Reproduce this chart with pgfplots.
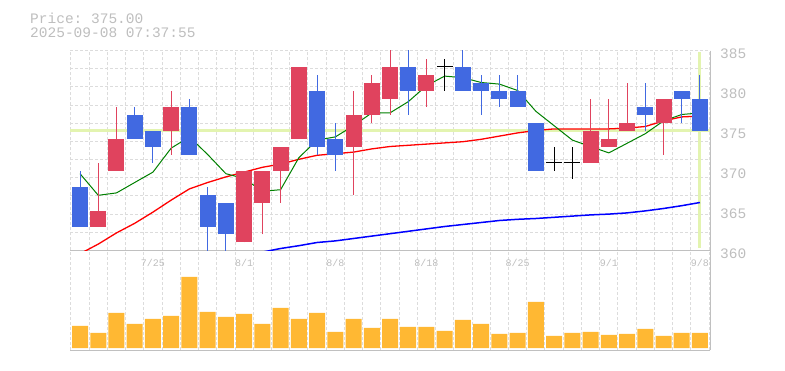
\documentclass[border=0pt]{standalone}
\usepackage{pgfplots}
\usepackage{pgfplotstable}
\pgfplotsset{compat=1.18}
\usepackage{fontspec}
\setmonofont{Liberation Mono}
\definecolor{cRed}{HTML}{E0435E}
\definecolor{cBlue}{HTML}{4169E1}
\definecolor{cVol}{HTML}{FFB833}
\definecolor{cNow}{HTML}{E3F4B0}
\definecolor{txtgray}{HTML}{BEBEBE}
\definecolor{axgray}{HTML}{C0C0C0}
\definecolor{gridgray}{HTML}{DCDCDC}
\definecolor{maGreen}{HTML}{008000}

% up candles (red): index open close high low
\pgfplotstableread{
i o c h l
1 363 365 371 363
2 370 374 378 370
5 375 378 380 372
9 361 370 370 361
10 366 370 370 362
11 370 373 373 366
12 374 383 383 374
15 373 377 380 367
16 377 381 382 376
17 379 383 386 377
19 380 382 384 378
28 371 375 379 371
29 373 374 379 373
30 375 376 381 375
32 376 379 379 372
}\uptab
% down candles (blue): index open close high low
\pgfplotstableread{
i o c h l
0 368 363 370 363
3 377 374 378 374
4 375 373 375 371
6 378 372 379 372
7 367 363 368 359
8 366 362 366 359
13 380 373 382 372
14 374 372 376 370
18 383 380 386 377
21 383 380 386 380
22 381 380 382 377
23 380 379 382 378
24 380 378 382 378
25 376 370 376 370
31 378 377 381 375
33 380 379 380 376
34 379 375 382 375
}\downtab
% doji: index price high low
\pgfplotstableread{
i p h l
20 383 384 380
26 371 373 370
27 371 373 369
}\dojitab
% volume
\pgfplotstableread{
i v
0 22
1 15
2 35
3 24
4 29
5 32
6 71
7 36
8 31
9 34
10 24
11 40
12 29
13 35
14 16
15 29
16 20
17 29
18 21
19 21
20 17
21 28
22 24
23 14
24 15
25 46
26 12
27 15
28 16
29 13
30 14
31 19
32 12
33 15
34 15
}\voltab

\begin{document}
\begin{tikzpicture}[x=1pt,y=1pt]
\path[use as bounding box] (0,0) rectangle (785,370);
\node[anchor=base west, font=\fontsize{14.5}{15}\selectfont\ttfamily, text=txtgray, inner sep=0pt] at (30,346.7) {Price: 375.00};
\node[anchor=base west, font=\fontsize{14.5}{15}\selectfont\ttfamily, text=txtgray, inner sep=0pt] at (30,332.7) {2025-09-08 07:37:55};

% volume panel
\begin{axis}[
  at={(70pt,20pt)}, anchor=south west, scale only axis,
  width=640pt, height=99.5pt,
  xmin=-0.55, xmax=34.55, ymin=-2, ymax=97.5,
  axis x line=bottom, axis y line=right,
  axis line style={draw=axgray, line width=1pt, -},
  xtick={-0.5,0.5,...,34.5}, xticklabels={},
  ytick=\empty,
  xmajorgrids=true,
  major grid style={draw=gridgray, dash pattern=on 3pt off 2pt, line width=1pt},
  major tick length=0pt,
]
\addplot[ybar, bar width=16pt, fill=cVol, draw=none] table[x=i,y=v]{\voltab};
\end{axis}

% price panel
\begin{axis}[
  at={(70pt,119.5pt)}, anchor=south west, scale only axis,
  width=640pt, height=200pt,
  xmin=-0.55, xmax=34.55, ymin=360, ymax=385,
  axis x line=bottom, axis y line=right,
  axis line style={draw=axgray, line width=1pt, -},
  xtick={-0.5,0.5,...,34.5}, xticklabels={},
  ytick={362.2727,364.5455,366.8182,369.0909,371.3636,373.6364,375.9091,378.1818,380.4545,382.7273,385},
  yticklabels={},
  xmajorgrids=true, ymajorgrids=true,
  major grid style={draw=gridgray, dash pattern=on 3pt off 2pt, line width=1pt},
  major tick length=0pt,
  extra x ticks={4,9,14,19,24,29,34},
  extra x tick labels={7/25,8/1,8/8,8/18,8/25,9/1,9/8},
  extra x tick style={grid=none, major tick length=0pt,
    xticklabel style={font=\fontsize{10}{10}\selectfont\ttfamily, text=txtgray, anchor=base, yshift=-16pt}},
  extra y ticks={360,365,370,375,380,385},
  extra y tick style={grid=none, major tick length=0pt,
    yticklabel style={font=\fontsize{14.5}{15}\selectfont\ttfamily, text=txtgray, anchor=west, inner sep=0pt, xshift=10pt, yshift=-2.8pt}},
  /pgf/number format/assume math mode=true,
]
% current price markers
\addplot[cNow, line width=3pt, forget plot] coordinates {(-0.55,375) (34.55,375)};
\addplot[cNow, line width=3pt, forget plot] coordinates {(34,360.3) (34,384.8)};
% moving averages
\addplot[blue, line width=1.5pt, mark=none] coordinates {
(10,359.8)(11,360.25)(12,360.6)(13,361.0)(14,361.2)(15,361.5)(16,361.8)(17,362.1)(18,362.4)(19,362.7)(20,363.0)(21,363.25)(22,363.5)(23,363.75)(24,363.9)(25,364.0)(26,364.15)(27,364.3)(28,364.45)(29,364.55)(30,364.7)(31,364.95)(32,365.25)(33,365.6)(34,366.0)};
\addplot[red, line width=1.3pt, mark=none] coordinates {
(0,359.6)(1,360.8)(2,362.2)(3,363.4)(4,364.8)(5,366.3)(6,367.7)(7,368.5)(8,369.2)(9,369.8)(10,370.4)(11,370.8)(12,371.4)(13,371.9)(14,372.1)(15,372.3)(16,372.7)(17,373.0)(18,373.15)(19,373.3)(20,373.45)(21,373.6)(22,373.9)(23,374.3)(24,374.7)(25,375.0)(26,375.2)(27,375.2)(28,375.2)(29,375.2)(30,375.3)(31,375.5)(32,376.2)(33,376.7)(34,376.8)};
\addplot[maGreen, line width=1pt, mark=none] coordinates {
(0,369.6)(1,366.9)(2,367.2)(3,368.5)(4,369.8)(5,372.8)(6,374.2)(7,372.0)(8,369.6)(9,369.0)(10,367.4)(11,367.6)(12,371.6)(13,373.8)(14,374.2)(15,375.6)(16,377.2)(17,377.2)(18,378.6)(19,380.6)(20,381.8)(21,381.6)(22,381.0)(23,380.8)(24,380.0)(25,377.4)(26,375.6)(27,373.8)(28,373.0)(29,372.2)(30,373.4)(31,374.6)(32,376.2)(33,377.0)(34,377.2)};
% wicks
\addplot[draw=none, mark=none, forget plot, error bars/.cd, y dir=plus, y explicit, error mark=none,
  error bar style={draw=cRed, line width=1pt}]
  table[x=i, y=l, y error expr=\thisrow{h}-\thisrow{l}]{\uptab};
\addplot[draw=none, mark=none, forget plot, error bars/.cd, y dir=plus, y explicit, error mark=none,
  error bar style={draw=cBlue, line width=1pt}]
  table[x=i, y=l, y error expr=\thisrow{h}-\thisrow{l}]{\downtab};
\addplot[draw=none, mark=none, forget plot, error bars/.cd, y dir=plus, y explicit, error mark=none,
  error bar style={draw=black, line width=1.2pt}]
  table[x=i, y=l, y error expr=\thisrow{h}-\thisrow{l}]{\dojitab};
% bodies
\addplot[draw=none, mark=none, forget plot, error bars/.cd, y dir=plus, y explicit, error mark=none,
  error bar style={draw=cRed, line width=16pt}]
  table[x=i, y=o, y error expr=\thisrow{c}-\thisrow{o}]{\uptab};
\addplot[draw=none, mark=none, forget plot, error bars/.cd, y dir=plus, y explicit, error mark=none,
  error bar style={draw=cBlue, line width=16pt}]
  table[x=i, y=c, y error expr=\thisrow{o}-\thisrow{c}]{\downtab};
\addplot[draw=none, mark=none, forget plot, error bars/.cd, x dir=both, x fixed=0.44, error mark=none,
  error bar style={draw=black, line width=1.2pt}]
  table[x=i, y=p]{\dojitab};
\end{axis}
\end{tikzpicture}
\end{document}
